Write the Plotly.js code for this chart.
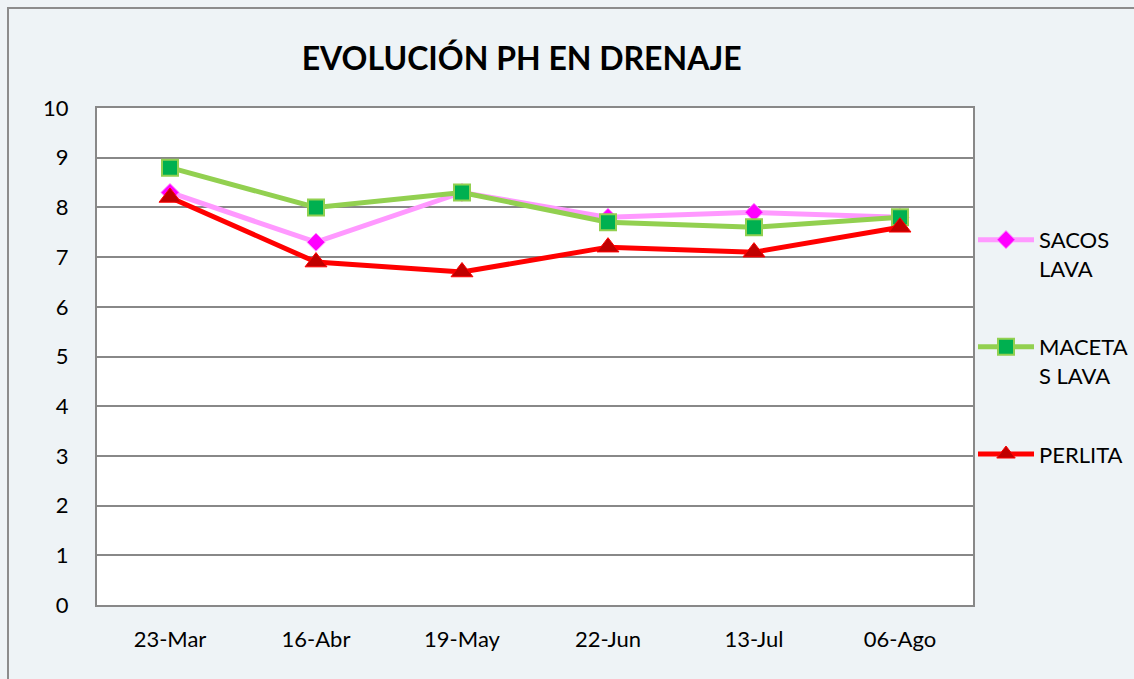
<!DOCTYPE html>
<html><head><meta charset="utf-8">
<script src="https://cdn.plot.ly/plotly-3.0.1.min.js"></script>
<style>html,body{margin:0;padding:0;background:#eef3f6;}#chart{width:1134px;height:679px;}</style>
</head><body><div id="chart"></div>
<script>
var categories = ["23-Mar", "16-Abr", "19-May", "22-Jun", "13-Jul", "06-Ago"];
var sacosLava = [8.3, 7.3, 8.3, 7.8, 7.9, 7.8];
var macetasLava = [8.8, 8.0, 8.3, 7.7, 7.6, 7.8];
var perlita = [8.2, 6.9, 6.7, 7.2, 7.1, 7.6];
var seriesNames = ["SACOS<br>LAVA", "MACETA<br>S LAVA", "PERLITA"];
var yTicks = [0,1,2,3,4,5,6,7,8,9,10];

var font = "Lato, 'Open Sans', sans-serif";
var traces = [
  {x: categories, y: sacosLava, name: seriesNames[0], mode: "lines+markers", legendgroup: "a",
   line: {color: "#ff99ff", width: 5}, marker: {symbol: "diamond", size: 14, color: "#ff00ff", line: {color: "#ff99ff", width: 1}}},
  {x: categories, y: macetasLava, name: seriesNames[1], mode: "lines+markers", legendgroup: "b",
   line: {color: "#92d050", width: 5}, marker: {symbol: "square", size: 16, color: "#00b050", line: {color: "#92d050", width: 2}}},
  {x: categories, y: perlita, name: seriesNames[2], mode: "lines+markers", legendgroup: "c",
   line: {color: "#ff0000", width: 5}, marker: {symbol: "triangle-up", size: 19, color: "#c00000", line: {color: "#ff0000", width: 1}}}
];
var layout = {
  width: 1134, height: 679,
  paper_bgcolor: "#eef3f6", plot_bgcolor: "#ffffff",
  margin: {l: 97, r: 161, t: 108, b: 74, autoexpand: false},
  title: {text: "<b>EVOLUCIÓN PH EN DRENAJE</b>", font: {family: font, size: 32, color: "#000"}, x: 0.46, xanchor: "center", y: 0.913, yanchor: "middle"},
  xaxis: {type: "category", range: [-0.5, 5.5], tickfont: {family: font, size: 22, color: "#000"}, showgrid: false, showline: true, linecolor: "#888", linewidth: 2, mirror: true, ticks: "", ticklen: 0, ticklabelstandoff: 14},
  yaxis: {range: [0, 10], tickvals: yTicks, tickfont: {family: font, size: 22, color: "#000"}, showgrid: true, gridcolor: "#888", gridwidth: 2, showline: true, linecolor: "#888", linewidth: 2, mirror: true, zeroline: false, ticks: "", ticklabelstandoff: 22},
  legend: {x: 1.0, xanchor: "left", y: 0.777, yanchor: "top", valign: "top", font: {family: font, size: 22, color: "#000"}, traceorder: "grouped", tracegroupgap: 47, bgcolor: "rgba(0,0,0,0)", itemwidth: 56},
  showlegend: true
};
var pw = 1134 - 97 - 161, ph = 679 - 108 - 74;
function px(x){return (x-97)/pw;} function py(y){return (605-y)/ph;}
layout.shapes = [
  {type: "rect", xref: "paper", yref: "paper", x0: px(8), x1: px(1140), y0: py(8), y1: py(700), line: {color: "#8c8c8c", width: 2}, fillcolor: "rgba(0,0,0,0)", layer: "below"}
];
Plotly.newPlot("chart", traces, layout, {displayModeBar: false});
</script></body></html>
